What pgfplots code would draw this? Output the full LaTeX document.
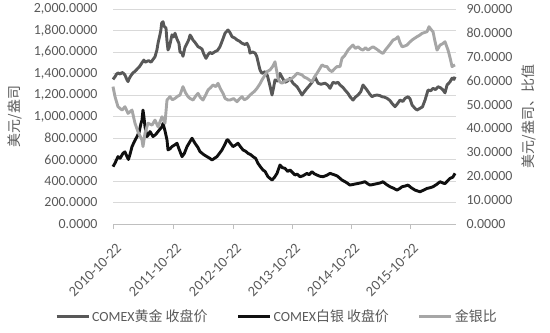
\documentclass[border=0pt]{standalone}
\usepackage{fontspec}
\setmainfont{Carlito}
\newfontfamily\cjk{Noto Sans CJK SC}
\usepackage{pgfplots}
\usepackage{pgfplotstable}
\pgfplotsset{compat=1.18}
\definecolor{tc}{HTML}{595959}
\definecolor{goldc}{HTML}{585858}
\definecolor{silvc}{HTML}{101010}
\definecolor{ratc}{HTML}{A6A6A6}
\definecolor{gridc}{HTML}{D9D9D9}
\definecolor{axc}{HTML}{BFBFBF}

\pgfplotstableread{
x y
0.000 1345
0.034 1370
0.060 1395
0.084 1405
0.120 1395
0.152 1410
0.180 1400
0.202 1385
0.236 1340
0.253 1325
0.270 1350
0.290 1370
0.320 1395
0.345 1410
0.370 1420
0.404 1440
0.440 1460
0.465 1480
0.488 1500
0.520 1525
0.540 1505
0.560 1510
0.600 1520
0.640 1505
0.673 1530
0.707 1556
0.740 1620
0.758 1682
0.790 1760
0.805 1800
0.820 1870
0.842 1882
0.860 1840
0.892 1823
0.909 1700
0.926 1619
0.945 1640
0.970 1700
0.993 1760
1.020 1740
1.044 1775
1.077 1720
1.110 1680
1.128 1600
1.162 1590
1.178 1560
1.210 1640
1.246 1680
1.280 1720
1.296 1758
1.320 1740
1.347 1711
1.380 1690
1.431 1650
1.465 1640
1.498 1628
1.530 1580
1.566 1541
1.599 1575
1.633 1596
1.667 1585
1.717 1603
1.760 1615
1.801 1650
1.850 1720
1.886 1775
1.936 1805
1.970 1780
2.003 1742
2.050 1730
2.088 1712
2.130 1700
2.172 1681
2.220 1670
2.256 1681
2.290 1640
2.306 1590
2.350 1600
2.391 1590
2.420 1560
2.441 1510
2.475 1432
2.508 1401
2.559 1417
2.600 1380
2.640 1290
2.677 1200
2.700 1260
2.727 1340
2.770 1330
2.811 1401
2.850 1360
2.896 1318
2.940 1330
2.980 1356
3.030 1310
3.098 1277
3.140 1240
3.182 1200
3.220 1230
3.266 1262
3.310 1290
3.350 1318
3.401 1365
3.451 1310
3.500 1300
3.569 1310
3.620 1290
3.653 1262
3.704 1318
3.750 1310
3.788 1318
3.822 1293
3.872 1270
3.906 1246
3.956 1215
3.990 1184
4.040 1153
4.080 1180
4.125 1200
4.170 1230
4.209 1293
4.242 1270
4.276 1246
4.320 1210
4.360 1184
4.400 1195
4.444 1200
4.490 1195
4.529 1184
4.570 1180
4.613 1169
4.660 1150
4.697 1122
4.747 1091
4.790 1120
4.832 1153
4.880 1140
4.916 1169
4.966 1184
5.000 1165
5.034 1107
5.084 1075
5.118 1060
5.168 1076
5.210 1090
5.253 1153
5.303 1246
5.350 1240
5.387 1262
5.430 1250
5.471 1277
5.520 1265
5.556 1246
5.589 1220
5.623 1293
5.670 1320
5.707 1356
5.740 1345
5.758 1370
}\gold

\pgfplotstableread{
x y
0.000 24.0
0.034 25.5
0.084 28.2
0.120 27.5
0.168 29.6
0.200 30.2
0.236 28.2
0.260 27.0
0.290 29.5
0.320 32.4
0.360 34.5
0.404 36.6
0.440 38.5
0.470 42.0
0.488 43.5
0.505 47.7
0.520 45.0
0.539 40.7
0.572 36.6
0.600 37.5
0.623 38.7
0.673 36.6
0.720 37.5
0.758 38.7
0.800 40.0
0.825 40.7
0.842 42.1
0.875 39.0
0.909 35.2
0.926 31.0
0.960 31.5
0.993 32.4
1.044 33.2
1.077 33.8
1.110 31.5
1.162 28.2
1.200 29.5
1.246 32.4
1.296 34.5
1.330 35.9
1.380 33.8
1.431 32.0
1.465 30.3
1.530 29.0
1.582 28.2
1.630 27.5
1.667 26.8
1.751 28.2
1.835 31.0
1.886 33.5
1.919 35.2
1.936 35.2
1.970 34.0
2.020 32.4
2.060 33.0
2.104 33.8
2.150 32.2
2.189 31.0
2.230 30.5
2.273 29.6
2.320 29.0
2.357 28.2
2.400 27.5
2.441 25.4
2.480 24.0
2.525 22.6
2.560 22.0
2.609 19.8
2.677 18.4
2.720 19.6
2.761 21.2
2.811 24.7
2.850 23.6
2.896 23.3
2.940 22.0
2.980 22.6
3.020 21.6
3.064 20.5
3.100 20.9
3.148 19.8
3.200 20.2
3.266 21.2
3.300 20.6
3.350 21.9
3.390 21.0
3.434 20.5
3.480 20.0
3.535 19.8
3.600 20.4
3.653 21.2
3.700 20.8
3.737 20.5
3.780 20.0
3.822 19.1
3.855 18.4
3.920 17.5
3.990 16.3
4.050 16.6
4.108 16.9
4.170 17.2
4.242 17.7
4.290 16.8
4.327 16.3
4.390 16.6
4.444 16.9
4.500 17.2
4.545 17.7
4.600 16.6
4.663 15.6
4.720 15.0
4.781 14.2
4.830 14.9
4.865 15.6
4.920 15.9
4.966 16.3
5.020 15.2
5.084 14.2
5.130 13.8
5.168 13.5
5.230 14.2
5.286 14.9
5.340 15.2
5.387 15.6
5.450 16.6
5.505 17.7
5.550 17.2
5.589 16.9
5.630 18.0
5.673 19.1
5.720 19.6
5.758 21.2
}\silver

\pgfplotstableread{
x y
0.000 57.5
0.034 53.3
0.084 49.1
0.152 47.7
0.202 49.1
0.253 46.3
0.320 47.7
0.370 42.2
0.421 38.6
0.488 35.2
0.505 32.4
0.539 38.0
0.589 42.2
0.657 41.4
0.707 43.5
0.758 40.7
0.825 44.9
0.875 42.2
0.909 51.9
0.960 53.3
1.000 52.0
1.044 52.6
1.090 53.5
1.128 54.0
1.178 57.5
1.220 55.0
1.263 53.3
1.300 52.5
1.347 51.9
1.390 53.5
1.431 54.7
1.470 53.0
1.515 51.9
1.560 54.0
1.599 56.1
1.640 57.0
1.684 58.2
1.730 57.5
1.768 58.9
1.810 56.5
1.852 54.7
1.886 52.6
1.936 51.9
1.970 51.9
2.030 52.5
2.088 51.2
2.130 52.4
2.172 53.3
2.210 52.0
2.256 52.6
2.300 53.8
2.340 54.7
2.380 55.5
2.424 56.8
2.470 58.5
2.508 60.3
2.550 62.0
2.593 63.8
2.643 64.5
2.690 66.0
2.727 67.9
2.778 61.0
2.810 59.5
2.845 58.9
2.890 59.8
2.929 60.3
2.970 60.5
3.013 61.0
3.060 62.0
3.098 63.1
3.140 62.8
3.182 62.4
3.220 61.5
3.266 61.0
3.310 60.2
3.350 59.6
3.390 61.5
3.434 63.1
3.480 65.0
3.519 66.6
3.560 66.0
3.603 65.9
3.640 64.5
3.687 63.8
3.730 65.0
3.771 65.9
3.822 65.9
3.855 69.4
3.900 70.5
3.956 72.8
4.000 74.0
4.040 74.9
4.080 73.5
4.125 74.2
4.170 73.2
4.209 72.8
4.250 73.8
4.293 72.8
4.330 73.5
4.377 74.2
4.420 73.5
4.461 72.8
4.500 72.0
4.545 71.4
4.590 73.0
4.630 74.2
4.670 75.5
4.714 77.0
4.760 77.5
4.798 78.4
4.830 76.0
4.865 74.2
4.910 74.5
4.949 74.9
4.990 76.0
5.034 77.0
5.080 77.8
5.118 78.4
5.160 79.0
5.202 79.8
5.250 80.2
5.286 80.5
5.320 82.6
5.350 81.5
5.387 80.5
5.420 76.5
5.455 72.8
5.480 73.8
5.505 74.9
5.550 75.5
5.589 76.3
5.615 74.5
5.640 72.8
5.680 69.0
5.707 65.9
5.735 66.3
5.758 66.6
}\ratio

\begin{document}
\begin{tikzpicture}
\path[use as bounding box] (0,0) rectangle (550bp,333bp);
\begin{axis}[
  at={(113bp,109bp)}, anchor=south west,
  scale only axis, width=343bp, height=215bp,
  xmin=0, xmax=5.774, ymin=0, ymax=2000,
  axis x line*=bottom, axis y line*=left,
  y axis line style={draw=none},
  x axis line style={draw=axc, line width=0.8bp},
  xtick={0,1.010,2.020,3.013,4.007,5.000},
  xticklabels={2010-10-22,2011-10-22,2012-10-22,2013-10-22,2014-10-22,2015-10-22},
  xtick align=outside, major tick length=5bp,
  xtick style={draw=axc, line width=0.8bp},
  ytick={0,200,...,2000},
  ytick style={draw=none},
  scaled y ticks=false,
  ymajorgrids, grid style={draw=gridc, line width=0.8bp},
  tick label style={font=\fontsize{14}{16}\selectfont, text=tc},
  /pgf/number format/assume math mode=true,
  yticklabel style={/pgf/number format/fixed, /pgf/number format/fixed zerofill,
    /pgf/number format/precision=4, /pgf/number format/1000 sep={,},
    anchor=east, xshift=-12bp},
  xticklabel style={xshift=6bp, yshift=-17bp, rotate=45, anchor=east, inner sep=0pt,
    font=\fontsize{14.5}{16}\selectfont},
  ylabel={\cjk 美元/盎司},
  ylabel style={at={(axis description cs:-0.2857,0.5)}, anchor=center,
    font=\fontsize{14}{16}\selectfont, text=tc},
  clip=false,
]
\addplot[goldc, line width=2.9bp, line join=round] table[x=x,y=y] {\gold};
\end{axis}
\begin{axis}[
  at={(113bp,109bp)}, anchor=south west,
  scale only axis, width=343bp, height=215bp,
  xmin=0, xmax=5.774, ymin=0, ymax=90,
  axis x line=none, axis y line*=right,
  y axis line style={draw=none}, ytick style={draw=none},
  ytick={0,10,...,90},
  tick label style={font=\fontsize{14}{16}\selectfont, text=tc},
  /pgf/number format/assume math mode=true,
  yticklabel style={/pgf/number format/fixed, /pgf/number format/fixed zerofill,
    /pgf/number format/precision=4, anchor=west, xshift=7bp},
  ylabel={\cjk 美元/盎司、比值},
  ylabel style={at={(axis description cs:1.2128,0.5)}, anchor=center,
    font=\fontsize{14}{16}\selectfont, text=tc},
  legend style={at={(axis description cs:0.478,-0.43)}, anchor=center,
    draw=none, fill=none, legend columns=3, font=\fontsize{14}{16}\selectfont,
    text=tc, inner sep=0pt,
    /tikz/every even column/.append style={column sep=27bp}},
  legend image code/.code={\draw[#1, line width=3bp] (0bp,0bp) -- (32bp,0bp);},
  clip=false,
]
\addlegendimage{goldc}
\addlegendentry{COMEX{\cjk 黄金} {\cjk 收盘价}}
\addplot[silvc, line width=2.9bp, line join=round] table[x=x,y=y] {\silver};
\addlegendentry{COMEX{\cjk 白银} {\cjk 收盘价}}
\addplot[ratc, line width=2.9bp, line join=round] table[x=x,y=y] {\ratio};
\addlegendentry{{\cjk 金银比}}
\end{axis}
\end{tikzpicture}
\end{document}
